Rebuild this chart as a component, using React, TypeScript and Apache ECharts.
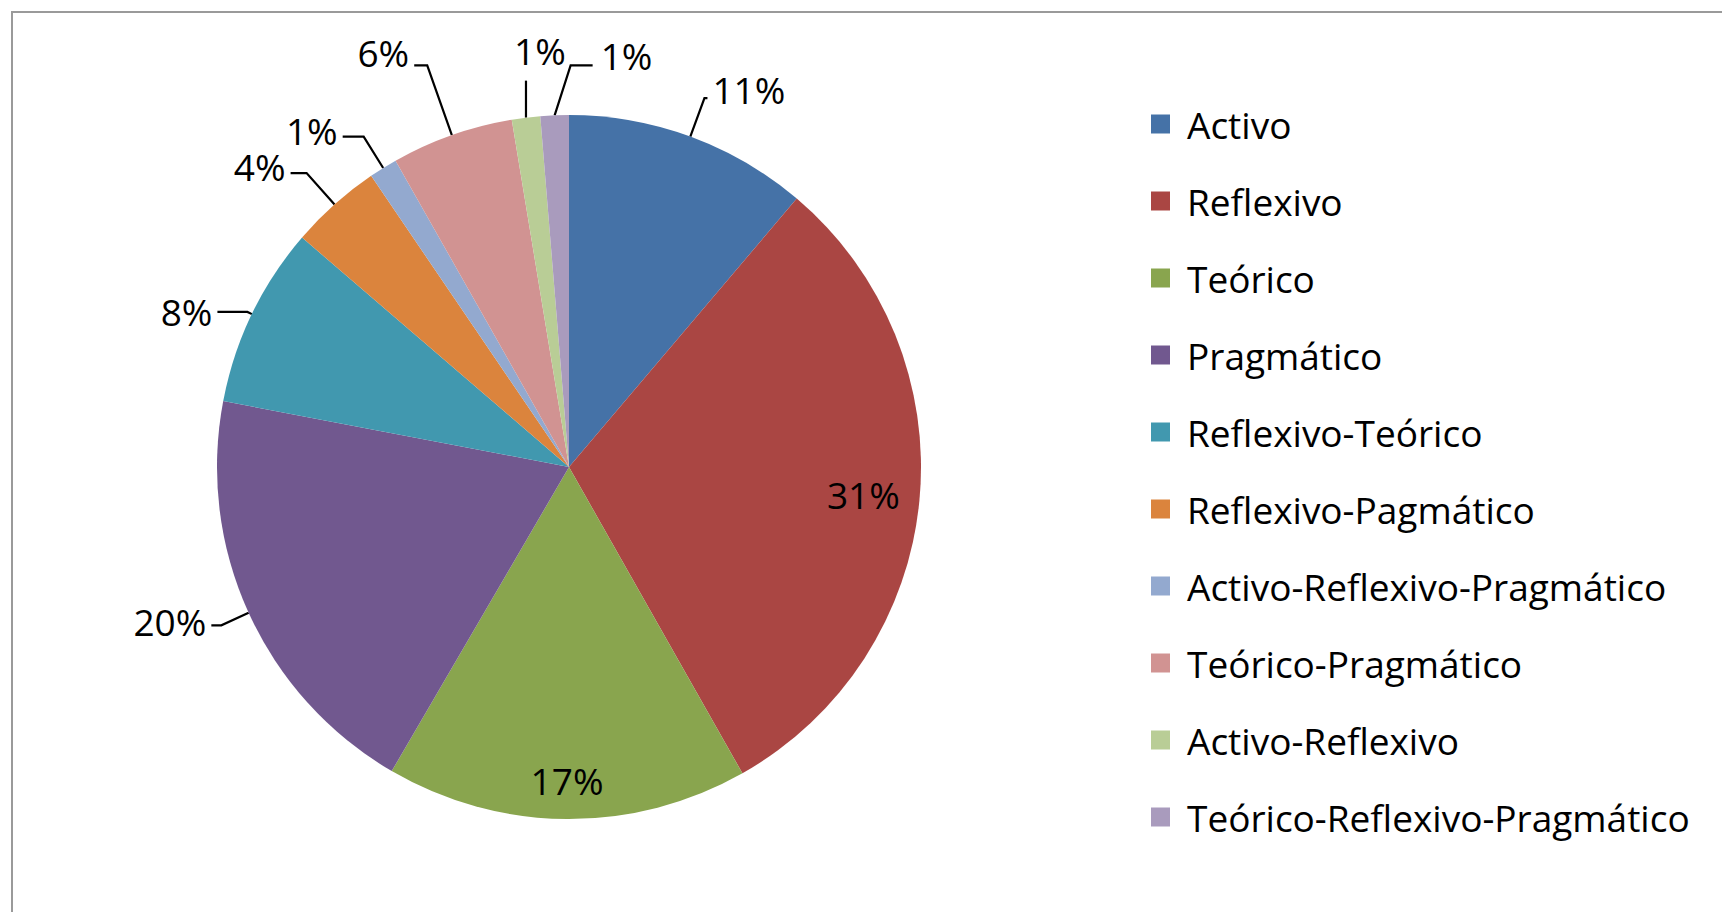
import React, { useEffect, useRef } from "react";
import * as echarts from "echarts";

const categories = [
  "Activo",
  "Reflexivo",
  "Teórico",
  "Pragmático",
  "Reflexivo-Teórico",
  "Reflexivo-Pagmático",
  "Activo-Reflexivo-Pragmático",
  "Teórico-Pragmático",
  "Activo-Reflexivo",
  "Teórico-Reflexivo-Pragmático",
];
// percentages
const values = [11.2, 30.6, 16.6, 19.6, 8.3, 4.2, 1.3, 5.6, 1.3, 1.3];
const colors = [
  "#4572A7",
  "#AA4643",
  "#89A54E",
  "#71588F",
  "#4198AF",
  "#DB843D",
  "#93A9CF",
  "#D19392",
  "#B9CD96",
  "#A99BBD",
];

const FONT = "'Open Sans', 'Noto Sans', sans-serif";
const FS = 37;
const CX = 569;
const CY = 467;
const R = 352;

// per-slice label placement styles (not data)
const labelStyles: Record<number, any> = {
  0: { line: [41, 3], lift: 9 },
  1: { inside: 0.84 },
  2: { inside: 0.89 },
  3: { line: [30, 10], lift: 4 },
  4: { line: [5, 30], lift: 0 },
  5: { line: [42, 16], lift: 7 },
  6: { line: [37, 21], lift: 6 },
  7: { line: [74, 13], lift: 13 },
  8: { line: [37, 0], up: true },
  9: { line: [10, 0], bend: true },
};

export default function App() {
  const ref = useRef<HTMLDivElement>(null);
  useEffect(() => {
    if (!ref.current) return;
    const chart = echarts.init(ref.current, undefined, { renderer: "svg" });
    const data = categories.map((name, i) => {
      const s = labelStyles[i] || {};
      const item: any = { name, value: values[i], itemStyle: { color: colors[i] } };
      if (s.inside) {
        item.label = { position: "inside" };
        item.labelLine = { show: false };
      } else {
        item.label = { position: "outside" };
        item.labelLine = { show: true, length: s.line[0], length2: s.line[1] };
      }
      return item;
    });
    chart.setOption({
      animation: false,
      backgroundColor: "#ffffff",
      graphic: [
        {
          type: "rect",
          shape: { x: 12, y: 12, width: 1800, height: 1000 },
          style: { fill: "none", stroke: "#9a9a9a", lineWidth: 2 },
          silent: true,
        },
      ],
      legend: {
        orient: "vertical",
        left: 1151,
        top: 104,
        padding: 0,
        icon: "rect",
        itemWidth: 19,
        itemHeight: 19,
        itemGap: 37,
        selectedMode: false,
        data: categories,
        textStyle: {
          fontFamily: FONT,
          fontSize: FS,
          color: "#000",
          lineHeight: 40,
          padding: [0, 0, 0, 12],
        },
      },
      series: [
        {
          type: "pie",
          center: [CX, CY],
          radius: R,
          startAngle: 90,
          clockwise: true,
          avoidLabelOverlap: false,
          minShowLabelAngle: 0,
          itemStyle: { borderWidth: 0 },
          emphasis: { disabled: true },
          label: {
            show: true,
            position: "outside",
            fontFamily: FONT,
            fontSize: FS,
            color: "#000",
            distanceToLabelLine: 5,
            formatter: (p: any) => Math.round(p.value) + "%",
          },
          labelLine: {
            show: true,
            lineStyle: { color: "#000", width: 2.2 },
          },
          labelLayout: (p: any) => {
            const i = p.dataIndex;
            const s = labelStyles[i] || {};
            if (s.inside) {
              const lx = p.labelRect.x + p.labelRect.width / 2;
              const ly = p.labelRect.y + p.labelRect.height / 2;
              const vx = lx - CX;
              const vy = ly - CY;
              const d = Math.sqrt(vx * vx + vy * vy) || 1;
              const t = s.inside * R;
              return { x: CX + (vx / d) * t, y: CY + (vy / d) * t, align: "center", verticalAlign: "middle" };
            }
            const pts = p.labelLinePoints;
            if (!pts || !pts[0]) return {};
            const ex = pts[0][0];
            const ey = pts[0][1];
            if (s.up) {
              return {
                x: ex + 14,
                y: ey - 67,
                align: "center",
                verticalAlign: "middle",
                labelLinePoints: [[ex, ey], [ex, ey - 37], [ex, ey - 37]],
              };
            }
            if (s.bend) {
              return {
                x: ex + 46,
                y: ey - 60,
                align: "left",
                verticalAlign: "middle",
                labelLinePoints: [[ex, ey], [ex + 16, ey - 50], [ex + 38, ey - 50]],
              };
            }
            const end = pts[pts.length - 1];
            const left = end[0] < ex;
            return {
              x: end[0] + (left ? -5 : 5),
              y: end[1] - (s.lift || 0),
              align: left ? "right" : "left",
              verticalAlign: "middle",
              labelLinePoints: pts.map((q: number[]) => [q[0], q[1]]),
            };
          },
          data,
        },
      ],
    });
    return () => chart.dispose();
  }, []);
  return (
    <div
      ref={ref}
      style={{ position: "absolute", left: 0, top: 0, width: 1722, height: 912 }}
    />
  );
}
